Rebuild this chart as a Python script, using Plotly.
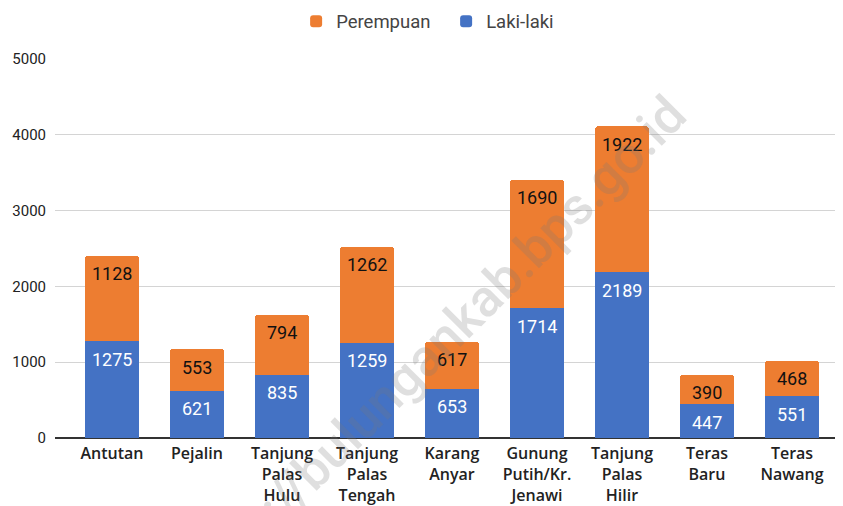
import plotly.graph_objects as go

categories = ["Antutan", "Pejalin", "Tanjung<br>Palas<br>Hulu", "Tanjung<br>Palas<br>Tengah",
              "Karang<br>Anyar", "Gunung<br>Putih/Kr.<br>Jenawi", "Tanjung<br>Palas<br>Hilir",
              "Teras<br>Baru", "Teras<br>Nawang"]
laki_laki = [1275, 621, 835, 1259, 653, 1714, 2189, 447, 551]
perempuan = [1128, 553, 794, 1262, 617, 1690, 1922, 390, 468]
y_ticks = [0, 1000, 2000, 3000, 4000, 5000]

BLUE = "#4472C4"
ORANGE = "#ED7D31"

fig = go.Figure()
fig.add_trace(go.Bar(
    x=categories, y=laki_laki, name="Laki-laki", marker=dict(color=BLUE, line=dict(width=0)),
    width=0.635, hoverinfo="x+y",
))
fig.add_trace(go.Bar(
    x=categories, y=perempuan, name="Perempuan", marker=dict(color=ORANGE, line=dict(width=0)),
    width=0.635, hoverinfo="x+y",
))

# data labels, placed just inside the top of each segment
for c, v in zip(categories, laki_laki):
    fig.add_annotation(x=c, y=v, text=str(v), showarrow=False, yanchor="middle", yshift=-18,
                       font=dict(family="Roboto", size=18, color="white"))
for c, lv, pv in zip(categories, laki_laki, perempuan):
    fig.add_annotation(x=c, y=lv + pv, text=str(pv), showarrow=False, yanchor="middle", yshift=-18,
                       font=dict(family="Roboto", size=18, color="#111"))

# page body has an 8px margin, so the figure is sized to fill the rest of the window
fig.update_layout(
    width=835, height=498,
    barmode="stack", barcornerradius=3,
    margin=dict(l=47, r=0, t=51, b=68, autoexpand=False),
    paper_bgcolor="white", plot_bgcolor="white",
    font=dict(family="Roboto", color="#222"),
    legend=dict(orientation="h", x=0.306, xanchor="left", y=1.0985, yanchor="middle",
                traceorder="reversed", font=dict(family="Roboto", size=18.5, color="#444"),
                entrywidth=105, entrywidthmode="pixels"),
    xaxis=dict(range=[-0.67, 8.6], automargin=False,
               tickfont=dict(family="Open Sans", size=16, color="#222", weight=600),
               showline=False, ticks="", tickangle=0, ticklabelstandoff=4),
    yaxis=dict(range=[0, 5000], tickvals=y_ticks, showgrid=True, gridcolor="#d4d4d4",
               gridwidth=1, zeroline=True, zerolinecolor="#333", zerolinewidth=2,
               automargin=False,
               tickfont=dict(family="Roboto", size=15, color="#222"),
               ticks="", ticklabelstandoff=8),
    showlegend=True,
)
fig.add_annotation(
    text="https://bulungankab.bps.go.id", xref="paper", yref="paper",
    x=0.476, y=0.226, xanchor="center", yanchor="middle", textangle=-45, showarrow=False,
    font=dict(family="Roboto", size=52, color="rgba(120,120,120,0.24)", weight=500),
)
fig.write_html("out.html")
